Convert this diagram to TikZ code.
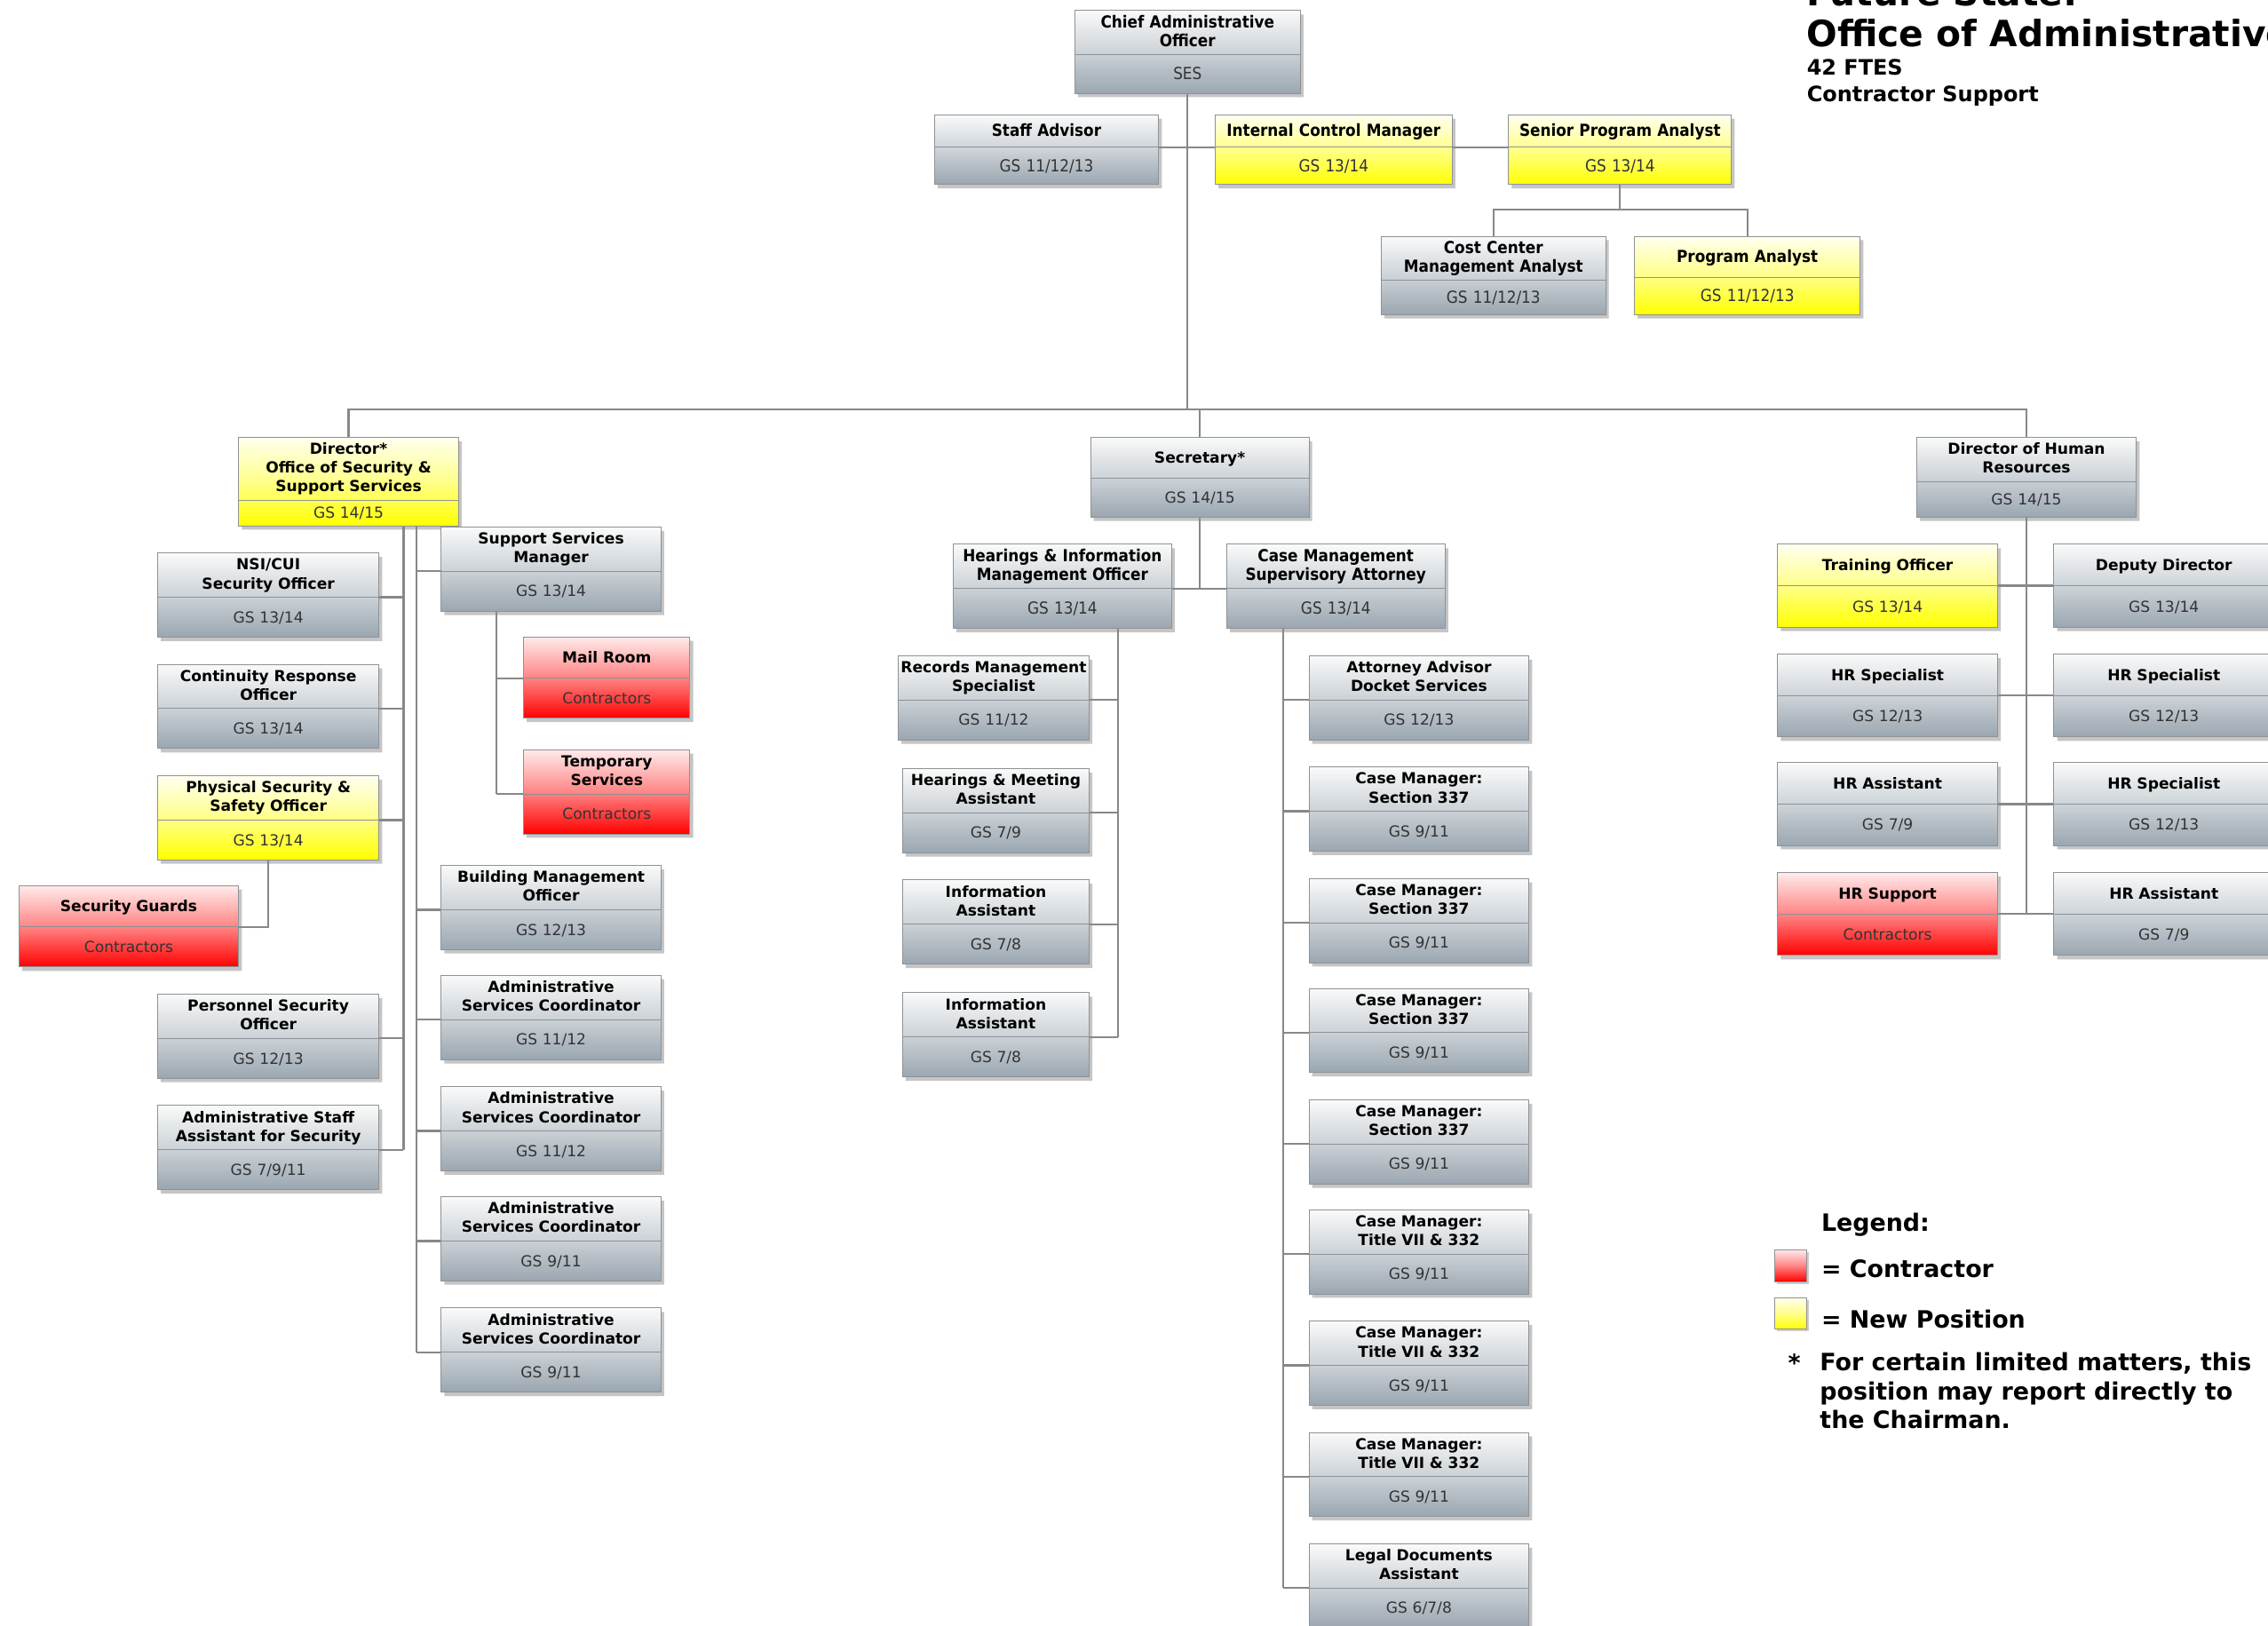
\documentclass[tikz,border=0pt]{standalone}
\usepackage{fontspec}
\setmainfont{DejaVu Sans}
\newfontfamily\condfont[FakeStretch=0.9]{DejaVu Sans}
\usepackage{xcolor}
\usepackage{tikz}
\usetikzlibrary{shapes.multipart,shadows}

\definecolor{edge}{HTML}{8E9296}
\definecolor{linec}{HTML}{888888}
\definecolor{ink}{HTML}{333333}
\definecolor{gtop}{HTML}{F9FAFA}
\definecolor{gmid}{HTML}{CDD3D8}
\definecolor{gbot}{HTML}{9AA6B0}
\definecolor{ytop}{HTML}{FFFFF0}
\definecolor{ymid}{HTML}{FFFF8A}
\definecolor{ybot}{HTML}{FFFF00}
\definecolor{rtop}{HTML}{FFEBEB}
\definecolor{rmid}{HTML}{FF8585}
\definecolor{rbot}{HTML}{FF0000}

% struts: one centred line of given height, top / bottom of a title block
\newcommand{\vstr}[1][28]{\rule[\dimexpr 3.8pt-#1pt/2\relax]{0pt}{#1pt}}
\newcommand{\gs}[1][27]{\mdseries\color{ink}\vstr[#1]}
\newcommand{\tstr}{\rule{0pt}{11.5pt}}
\newcommand{\bstr}{\rule[-5.5pt]{0pt}{5.5pt}}

\begin{document}
\begin{tikzpicture}[
  x=1pt, y=-1pt,
  box/.style={rectangle split, rectangle split parts=2, draw=edge, line width=0.6pt,
              anchor=north, align=center, text width=150pt, inner xsep=1pt, inner ysep=0pt,
              font=\fontsize{10.5}{13}\selectfont\bfseries,
              drop shadow={shadow xshift=2.2pt, shadow yshift=-2.7pt, opacity=0.45}},
  cond/.style={font=\condfont\fontsize{11.5}{13}\selectfont\bfseries},
  gfill/.style={top color=gtop, bottom color=gbot, middle color=gmid},
  yfill/.style={top color=ytop, bottom color=ybot, middle color=ymid},
  rfill/.style={top color=rtop, bottom color=rbot, middle color=rmid},
  link/.style={draw=linec, line width=1.4pt},
  swatch/.style={draw=edge, line width=0.6pt, minimum size=22pt, inner sep=0pt,
                 drop shadow={shadow xshift=1.5pt, shadow yshift=-1.5pt, opacity=0.4}},
  legend/.style={font=\fontsize{16.5}{20}\selectfont\bfseries, inner sep=0pt}
]
\path[fill=white, use as bounding box] (0,0) rectangle (1568,1124);

% title
\node[anchor=base west, inner sep=0pt, font=\fontsize{25}{28}\selectfont\bfseries] (head0) at (1249,4) {Future State:};
\node[anchor=base west, inner sep=0pt, font=\fontsize{25}{28}\selectfont\bfseries] (head) at (1249,32) {Office of Administrative};
\node[anchor=base west, inner sep=0pt, font=\fontsize{14.7}{18}\selectfont\bfseries] (ftes) at (1249,52) {42 FTES};
\node[anchor=base west, inner sep=0pt, font=\fontsize{14.7}{18}\selectfont\bfseries] (csup) at (1249,70) {Contractor Support};

% top level
\node[box, gfill, cond, text width=154pt] (cao) at (821,7) {\tstr Chief Administrative\\Officer\bstr\nodepart{two}\gs[26]SES};
\node[box, gfill, cond, text width=153pt] (staff) at (723.5,79) {\vstr[22]Staff Advisor\nodepart{two}\gs[25]GS 11/12/13};
\node[box, yfill, cond, text width=162pt] (icm) at (922,79) {\vstr[22]Internal Control Manager\nodepart{two}\gs[25]GS 13/14};
\node[box, yfill, cond, text width=152pt] (spa) at (1120,79) {\vstr[22]Senior Program Analyst\nodepart{two}\gs[25]GS 13/14};
\node[box, gfill, cond, text width=153pt] (ccma) at (1032.5,163) {\tstr Cost Center\\Management Analyst\bstr\nodepart{two}\gs[23]GS 11/12/13};
\node[box, yfill, cond, text width=154pt] (pa) at (1208,163) {\vstr Program Analyst\nodepart{two}\gs[25]GS 11/12/13};

% directors
\node[box, yfill] (dir) at (241,302) {\tstr Director*\\Office of Security \&\\Support Services\bstr\nodepart{two}\gs[17]GS 14/15};
\node[box, gfill, text width=149pt] (sec) at (829.5,302) {\vstr Secretary*\nodepart{two}\gs[26]GS 14/15};
\node[box, gfill] (dhr) at (1401,302) {\tstr Director of Human\\Resources\bstr\nodepart{two}\gs[24]GS 14/15};

% security & support services
\node[box, gfill, text width=151pt] (nsi) at (185.5,382) {\tstr NSI/CUI\\Security Officer\bstr\nodepart{two}\gs GS 13/14};
\node[box, gfill, text width=151pt] (cro) at (185.5,459) {\tstr Continuity Response\\Officer\bstr\nodepart{two}\gs GS 13/14};
\node[box, yfill, text width=151pt] (pso) at (185.5,536) {\tstr Physical Security \&\\Safety Officer\bstr\nodepart{two}\gs GS 13/14};
\node[box, rfill] (sg) at (89,612) {\vstr Security Guards\nodepart{two}\gs Contractors};
\node[box, gfill, text width=151pt] (perso) at (185.5,687) {\tstr Personnel Security\\Officer\bstr\nodepart{two}\gs GS 12/13};
\node[box, gfill, text width=151pt] (assa) at (185.5,764) {\tstr Administrative Staff\\Assistant for Security\bstr\nodepart{two}\gs GS 7/9/11};
\node[box, gfill] (ssm) at (381,364) {\tstr Support Services\\Manager\bstr\nodepart{two}\gs GS 13/14};
\node[box, rfill, text width=113pt] (mail) at (419.5,440) {\vstr Mail Room\nodepart{two}\gs Contractors};
\node[box, rfill, text width=113pt] (temp) at (419.5,518) {\tstr Temporary\\Services\bstr\nodepart{two}\gs Contractors};
\node[box, gfill] (bmo) at (381,598) {\tstr Building Management\\Officer\bstr\nodepart{two}\gs GS 12/13};
\node[box, gfill] (asc1) at (381,674) {\tstr Administrative\\Services Coordinator\bstr\nodepart{two}\gs GS 11/12};
\node[box, gfill] (asc2) at (381,751) {\tstr Administrative\\Services Coordinator\bstr\nodepart{two}\gs GS 11/12};
\node[box, gfill] (asc3) at (381,827) {\tstr Administrative\\Services Coordinator\bstr\nodepart{two}\gs GS 9/11};
\node[box, gfill] (asc4) at (381,904) {\tstr Administrative\\Services Coordinator\bstr\nodepart{two}\gs GS 9/11};

% secretary
\node[box, gfill, cond, text width=149pt] (himo) at (734.5,376) {\tstr Hearings \& Information\\Management Officer\bstr\nodepart{two}\gs GS 13/14};
\node[box, gfill, cond, text width=149pt] (cmsa) at (923.5,376) {\tstr Case Management\\Supervisory Attorney\bstr\nodepart{two}\gs GS 13/14};
\node[box, gfill, text width=130pt] (rms) at (687,453) {\tstr Records Management\\Specialist\bstr\nodepart{two}\gs GS 11/12};
\node[box, gfill, text width=127pt] (hma) at (688.5,531) {\tstr Hearings \& Meeting\\Assistant\bstr\nodepart{two}\gs GS 7/9};
\node[box, gfill, text width=127pt] (ia1) at (688.5,608) {\tstr Information\\Assistant\bstr\nodepart{two}\gs GS 7/8};
\node[box, gfill, text width=127pt] (ia2) at (688.5,686) {\tstr Information\\Assistant\bstr\nodepart{two}\gs GS 7/8};
\node[box, gfill] (aads) at (981,453) {\tstr Attorney Advisor\\Docket Services\bstr\nodepart{two}\gs GS 12/13};
\node[box, gfill] (cm1) at (981,530) {\tstr Case Manager:\\Section 337\bstr\nodepart{two}\gs GS 9/11};
\node[box, gfill] (cm2) at (981,607) {\tstr Case Manager:\\Section 337\bstr\nodepart{two}\gs GS 9/11};
\node[box, gfill] (cm3) at (981,683) {\tstr Case Manager:\\Section 337\bstr\nodepart{two}\gs GS 9/11};
\node[box, gfill] (cm4) at (981,760) {\tstr Case Manager:\\Section 337\bstr\nodepart{two}\gs GS 9/11};
\node[box, gfill] (cm5) at (981,836) {\tstr Case Manager:\\Title VII \& 332\bstr\nodepart{two}\gs GS 9/11};
\node[box, gfill] (cm6) at (981,913) {\tstr Case Manager:\\Title VII \& 332\bstr\nodepart{two}\gs GS 9/11};
\node[box, gfill] (cm7) at (981,990) {\tstr Case Manager:\\Title VII \& 332\bstr\nodepart{two}\gs GS 9/11};
\node[box, gfill] (lda) at (981,1067) {\tstr Legal Documents\\Assistant\bstr\nodepart{two}\gs GS 6/7/8};

% human resources
\node[box, yfill] (to) at (1305,376) {\vstr Training Officer\nodepart{two}\gs[28]GS 13/14};
\node[box, gfill] (dd) at (1496,376) {\vstr Deputy Director\nodepart{two}\gs[28]GS 13/14};
\node[box, gfill] (hrs1) at (1305,452) {\vstr HR Specialist\nodepart{two}\gs[28]GS 12/13};
\node[box, gfill] (hrs2) at (1496,452) {\vstr HR Specialist\nodepart{two}\gs[28]GS 12/13};
\node[box, gfill] (hra1) at (1305,527) {\vstr HR Assistant\nodepart{two}\gs[28]GS 7/9};
\node[box, gfill] (hrs3) at (1496,527) {\vstr HR Specialist\nodepart{two}\gs[28]GS 12/13};
\node[box, rfill] (hrsup) at (1305,603) {\vstr HR Support\nodepart{two}\gs[28]Contractors};
\node[box, gfill] (hra2) at (1496,603) {\vstr HR Assistant\nodepart{two}\gs[28]GS 7/9};

% connectors
\coordinate (busy) at (0,283);
\coordinate (spaj) at (1120,145);
\coordinate (trl) at (279,0);
\coordinate (trr) at (288,0);
\coordinate (trs) at (343,0);
\coordinate (trh) at (773,0);
\coordinate (trc) at (887,0);
\draw[link] (cao.south) -- (cao.south |- busy);
\draw[link] (dir.north) |- (dhr.north |- busy) -- (dhr.north);
\draw[link] (sec.north) -- (sec.north |- busy);
\draw[link] (staff.one split east) -- (icm.one split west);
\draw[link] (icm.one split east) -- (spa.one split west);
\draw[link] (spa.south) -- (spa.south |- spaj);
\draw[link] (ccma.north) |- (spa.south |- spaj) -| (pa.north);

\draw[link] (dir.south -| trl) -- (assa.one split east -| trl);
\foreach \n in {nsi,cro,pso,perso,assa}
  \draw[link] (\n.one split east) -- (\n.one split east -| trl);
\draw[link] (pso.south) |- (sg.one split east);
\draw[link] (dir.south -| trr) -- (asc4.one split west -| trr);
\foreach \n in {ssm,bmo,asc1,asc2,asc3,asc4}
  \draw[link] (\n.one split west) -- (\n.one split west -| trr);
\draw[link] (ssm.south -| trs) -- (temp.one split west -| trs);
\foreach \n in {mail,temp}
  \draw[link] (\n.one split west) -- (\n.one split west -| trs);

\draw[link] (sec.south) -- (sec.south |- himo.one split east);
\draw[link] (himo.one split east) -- (cmsa.one split west);
\draw[link] (himo.south -| trh) -- (ia2.one split east -| trh);
\foreach \n in {rms,hma,ia1,ia2}
  \draw[link] (\n.one split east) -- (\n.one split east -| trh);
\draw[link] (cmsa.south -| trc) -- (lda.one split west -| trc);
\foreach \n in {aads,cm1,cm2,cm3,cm4,cm5,cm6,cm7,lda}
  \draw[link] (\n.one split west) -- (\n.one split west -| trc);

\draw[link] (dhr.south) -- (dhr.south |- hrsup.one split east);
\foreach \a/\b in {to/dd,hrs1/hrs2,hra1/hrs3,hrsup/hra2}
  \draw[link] (\a.one split east) -- (\b.one split west);

% legend
\node[legend, anchor=base west] (leg) at (1259,851) {Legend:};
\node[swatch, rfill] (keyc) at (1238,875) {};
\node[swatch, yfill] (keyn) at (1238,908) {};
\node[legend, anchor=base west] (legc) at (1259,883) {= Contractor};
\node[legend, anchor=base west] (legn) at (1259,918) {= New Position};
\node[legend, anchor=base west] (star) at (1236,948) {*};
\node[legend, anchor=north west, align=left] (note) at (1258,935) {For certain limited matters, this\\position may report directly to\\the Chairman.};
\end{tikzpicture}
\end{document}
